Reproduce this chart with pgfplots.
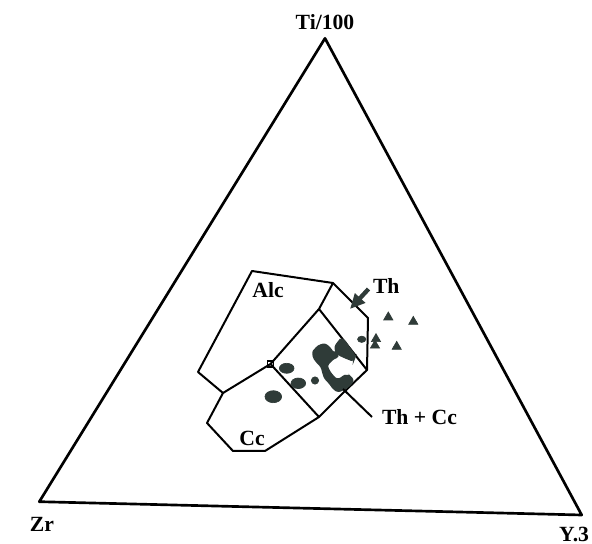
\documentclass[border=0pt]{standalone}
\usepackage{fontspec}
\setmainfont{Liberation Serif}
\usepackage{pgfplots}
\pgfplotsset{compat=1.18}
\usetikzlibrary{arrows.meta}
\definecolor{blob}{HTML}{2F3B38}

\begin{document}
\begin{tikzpicture}[lbl/.style={font=\fontsize{13}{15}\selectfont\bfseries, inner sep=1pt}]
\begin{axis}[
    scale only axis,
    width=355.2pt, height=326.4pt,
    xmin=0, xmax=592, ymin=0, ymax=544,
    y dir=reverse,
    hide axis,
    clip=false,
]
% outer triangle (scanned, slightly skewed)
\addplot[black, line width=1.6pt, line join=round] coordinates {
    (325,38.3) (39.3,501.7) (581.7,515) (325,38.3) (39.3,501.7)
};
% field outline
\addplot[black, line width=1.2pt, line join=round] coordinates {
    (252,271) (333,283) (368,318) (367,370) (343,393) (319,417)
    (265,451) (233,451) (207,423) (223,393) (198,372) (252,271) (333,283)
};
% internal boundaries
\addplot[black, line width=1.2pt] coordinates {(223,393) (270.5,364) (319,309) (333,283)};
\addplot[black, line width=1.2pt] coordinates {(319,309) (367,370)};
\addplot[black, line width=1.2pt] coordinates {(270.5,364) (319,417)};

% big blob (Th + Cc)
\addplot[fill=blob, draw=blob, line width=1.2pt, rounded corners=1.5pt] coordinates {
    (313.3,351.7) (318.3,346) (325,344) (330,348.3) (333.3,353.3) (336.7,351.7)
    (338.3,356.7) (333.3,358.3) (330,361.7) (326.7,365) (328.3,370) (331.7,375)
    (336.7,380) (341.7,378.3) (345,375) (350,376.7) (353.3,380) (350,385)
    (345,388.3) (338.3,391.7) (333.3,388.3) (330,383.3) (325,378.3) (323.3,373.3)
    (321.7,366.7) (316.7,361.7) (313.3,356.7) (313.3,351.7)
};
\addplot[fill=blob, draw=blob, line width=1.2pt, rounded corners=1.5pt] coordinates {
    (340.7,339.3) (335,346.7) (336.7,353.3) (343.3,356.7) (353.3,360.7)
    (355,356) (348.3,346.7) (344,340) (340.7,339.3)
};
% smaller blobs
\addplot[only marks, mark=*, mark size=4.4pt, mark options={fill=blob, draw=blob, yscale=0.68}] coordinates {(286.7,368.3)};
\addplot[only marks, mark=*, mark size=4.4pt, mark options={fill=blob, draw=blob, yscale=0.72, rotate=-20}] coordinates {(298.3,383.3)};
\addplot[only marks, mark=*, mark size=5pt, mark options={fill=blob, draw=blob, yscale=0.72, rotate=20}] coordinates {(273.3,396.7)};
\addplot[only marks, mark=*, mark size=2.2pt, mark options={fill=blob, draw=blob}] coordinates {(315,380.5)};
\addplot[only marks, mark=*, mark size=2.5pt, mark options={fill=blob, draw=blob, yscale=0.75}] coordinates {(361.7,339.3)};
% open square
\addplot[only marks, mark=square, mark size=1.8pt, mark options={draw=black, line width=0.9pt}] coordinates {(270.5,364)};
% triangles
\addplot[only marks, mark=triangle*, mark size=3.2pt, mark options={fill=blob, draw=blob}] coordinates {
    (388.3,317.3) (413.3,321.7) (376,339) (375,345.5) (396.7,346.7)
};

% arrow and leader line
\draw[-{Triangle[length=9pt,width=8pt]}, line width=2.6pt, blob] (axis cs:368.5,289) -- (axis cs:350,309);
\draw[black, line width=1.2pt] (axis cs:372,417) -- (axis cs:343,389);

% labels
\node[lbl] at (axis cs:325,22) {Ti/100};
\node[lbl] at (axis cs:42,524) {Zr};
\node[lbl, anchor=east] at (axis cs:591,534) {Y.3};
\node[lbl] at (axis cs:268,290) {Alc};
\node[lbl] at (axis cs:252,438) {Cc};
\node[lbl, anchor=west] at (axis cs:371,286) {Th};
\node[lbl, anchor=west] at (axis cs:380,417) {Th + Cc};
\end{axis}
\pgfresetboundingbox
\path (current axis.south west) rectangle (current axis.north east);
\end{tikzpicture}
\end{document}
